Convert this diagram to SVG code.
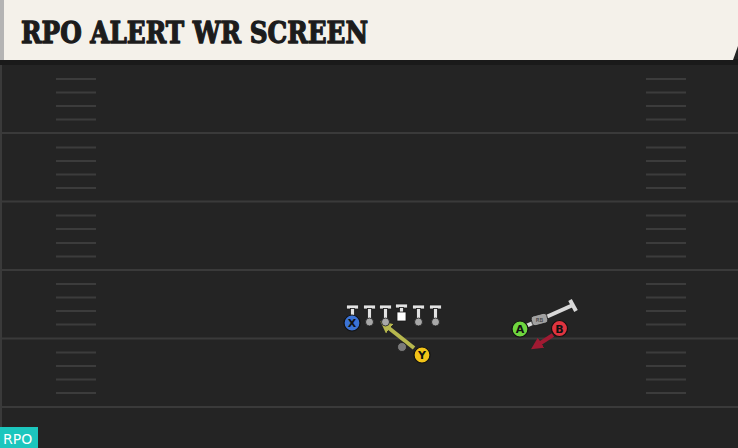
<svg xmlns="http://www.w3.org/2000/svg" width="738" height="448" viewBox="0 0 738 448">
<style>
.yard{stroke:#3a3a3a;stroke-width:2}
.hash{stroke:#3c3c3c;stroke-width:2}
.bar{fill:#e2e2e2;stroke:#1a1a1a;stroke-width:0.8}
.ball{fill:#a8a8a8;stroke:#1a1a1a;stroke-width:0.8}
.lbl{font-family:"DejaVu Sans","Liberation Sans",sans-serif;font-size:11px;font-weight:bold;fill:#111;text-anchor:middle}
.pc{stroke:#111;stroke-width:1.2}
</style>
<defs>
<marker id="ay" viewBox="0 0 10 10" refX="5" refY="5" markerWidth="3" markerHeight="3" orient="auto-start-reverse"><path d="M0,0 L10,5 L0,10 z" fill="#b7b84e"/></marker>
<marker id="ar" viewBox="0 0 10 10" refX="5" refY="5" markerWidth="3" markerHeight="3" orient="auto-start-reverse"><path d="M0,0 L10,5 L0,10 z" fill="#a01a32"/></marker>
</defs>
<rect width="738" height="448" fill="#242424"/>
<rect x="0" y="0" width="2" height="448" fill="#3a3a3a"/>
<g id="field">
<line class="yard" x1="0" y1="133" x2="738" y2="133"/>
<line class="yard" x1="0" y1="201.5" x2="738" y2="201.5"/>
<line class="yard" x1="0" y1="270" x2="738" y2="270"/>
<line class="yard" x1="0" y1="338.5" x2="738" y2="338.5"/>
<line class="yard" x1="0" y1="407" x2="738" y2="407"/>
<g class="hash">
<path d="M56,79H96M56,92.5H96M56,106H96M56,119.5H96M56,147.5H96M56,161H96M56,174.5H96M56,188H96M56,215.5H96M56,229H96M56,243H96M56,256.5H96M56,284H96M56,297.5H96M56,311H96M56,324.5H96M56,352.5H96M56,366H96M56,379.5H96M56,393H96"/>
<path d="M646,79H686M646,92.5H686M646,106H686M646,119.5H686M646,147.5H686M646,161H686M646,174.5H686M646,188H686M646,215.5H686M646,229H686M646,243H686M646,256.5H686M646,284H686M646,297.5H686M646,311H686M646,324.5H686M646,352.5H686M646,366H686M646,379.5H686M646,393H686"/>
</g>
</g>
<g id="header">
<rect x="0" y="59" width="738" height="6" fill="#1a1a1a"/>
<path d="M0,0 H738 V46 L733,60 H0 Z" fill="#f4f1ea"/>
<rect x="0" y="0" width="4" height="60" fill="#b4b4b4"/>
<text x="21" y="43" font-family="DejaVu Serif" font-weight="bold" font-size="29" fill="#1c1c1c" stroke="#1c1c1c" stroke-width="1.3" stroke-linejoin="round" textLength="347" lengthAdjust="spacingAndGlyphs">RPO ALERT WR SCREEN</text>
</g>
<g id="connectors">
<line x1="414" y1="348" x2="385" y2="325" stroke="#b7b84e" stroke-width="4" marker-end="url(#ay)"/>
<line x1="553" y1="335" x2="536" y2="346" stroke="#a01a32" stroke-width="4" marker-end="url(#ar)"/>
<line x1="526" y1="326" x2="573" y2="305" stroke="#d8d8d8" stroke-width="4"/>
<line x1="570" y1="300" x2="576" y2="311" stroke="#d8d8d8" stroke-width="4"/>
</g>
<g id="ol1"><rect class="bar" x="346.5" y="305" width="12" height="4"/><rect class="bar" x="350.5" y="308.5" width="4" height="11.5"/><circle class="ball" cx="352.5" cy="322" r="4"/></g>
<g id="ol2"><rect class="bar" x="363.5" y="305" width="12" height="4"/><rect class="bar" x="367.5" y="308.5" width="4" height="11.5"/><circle class="ball" cx="369.5" cy="322" r="4"/></g>
<g id="ol3"><rect class="bar" x="379.5" y="305" width="12" height="4"/><rect class="bar" x="383.5" y="308.5" width="4" height="11.5"/><circle class="ball" cx="385.5" cy="322" r="4"/></g>
<g id="center"><rect class="bar" x="395.5" y="304" width="12" height="4"/><rect class="bar" x="399.5" y="307.5" width="4" height="5"/><rect x="397" y="312" width="9" height="9" fill="#ffffff" stroke="#1a1a1a" stroke-width="0.8"/></g>
<g id="ol4"><rect class="bar" x="412.5" y="305" width="12" height="4"/><rect class="bar" x="416.5" y="308.5" width="4" height="11.5"/><circle class="ball" cx="418.5" cy="322" r="4"/></g>
<g id="ol5"><rect class="bar" x="429.5" y="305" width="12" height="4"/><rect class="bar" x="433.5" y="308.5" width="4" height="11.5"/><circle class="ball" cx="435.5" cy="322" r="4"/></g>
<g id="qb"><circle cx="402" cy="347" r="4.5" fill="#7a7a7a" stroke="#1a1a1a" stroke-width="0.8"/></g>
<g id="X"><circle class="pc" cx="352" cy="323" r="8" fill="#3b73d6"/><text class="lbl" x="352" y="327">X</text></g>
<g id="Y"><circle class="pc" cx="422" cy="355" r="8" fill="#f2c318"/><text class="lbl" x="422" y="359">Y</text></g>
<g id="RB"><rect x="531.5" y="314.5" width="16" height="10" rx="3" fill="#a0a0a0" stroke="#1a1a1a" stroke-width="0.8" transform="rotate(-15 539.5 319.5)"/><text x="539.5" y="322" font-family="DejaVu Sans" font-size="5.5" fill="#333" text-anchor="middle">RB</text></g>
<g id="A"><circle class="pc" cx="520" cy="329" r="8" fill="#6fd63f"/><text class="lbl" x="520" y="333">A</text></g>
<g id="B"><circle class="pc" cx="559.5" cy="328.5" r="8" fill="#e0343f"/><text class="lbl" x="559.5" y="332.5">B</text></g>
<g id="badge"><rect x="0" y="427" width="38" height="21" fill="#1cc6bd"/><text x="3" y="444" font-family="DejaVu Sans" font-size="14" fill="#ffffff">RPO</text></g>
</svg>
